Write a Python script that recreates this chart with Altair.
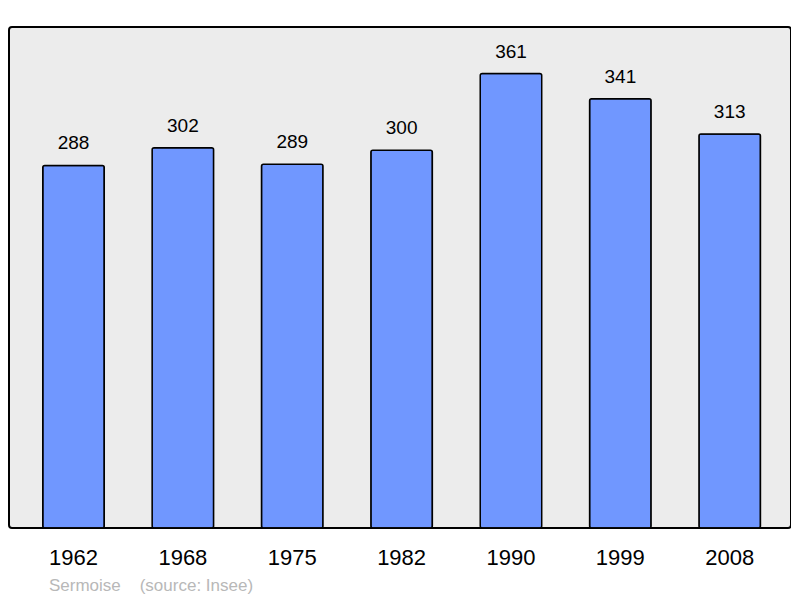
import altair as alt
import pandas as pd

years = ["1962", "1968", "1975", "1982", "1990", "1999", "2008"]
population = [288, 302, 289, 300, 361, 341, 313]

df = pd.DataFrame({"year": years, "pop": population})

x = alt.X("year:N", sort=years, title=None,
          scale=alt.Scale(paddingInner=0.4377, paddingOuter=0.294, align=0.525),
          axis=alt.Axis(labelAngle=0, labelFontSize=22, labelColor="black",
                        labelFont="Liberation Sans", labelPadding=19,
                        labelBaseline="top",
                        ticks=False, domain=False, grid=False))
y = alt.Y("pop:Q", title=None, scale=alt.Scale(domain=[0, 398], nice=False),
          axis=None)

bars = alt.Chart(df).mark_bar(color="#7097ff", stroke="black", strokeWidth=1.5,
                              cornerRadius=2).encode(x=x, y=y)
labels = alt.Chart(df).mark_text(fontSize=19, font="Liberation Sans", color="black",
                                 dy=-22, baseline="middle").encode(
    x=alt.X("year:N", sort=years), y="pop:Q", text="pop:Q")

chart = alt.layer(bars, labels).properties(
    width=782, height=501,
    background="white",
    autosize=alt.AutoSizeParams(type="none"),
    padding={"left": 1, "top": 19, "right": 0, "bottom": 70},
    title=alt.TitleParams(
        text="Sermoise\u00a0\u00a0\u00a0\u00a0(source: Insee)",
        orient="bottom", anchor="start", dx=40, offset=10,
        fontSize=17, font="Liberation Sans", fontWeight="normal", color="#b8b8b8"),
).configure_view(fill="#ececec", stroke="black", strokeWidth=2, cornerRadius=3)

chart.save("out.html", embed_options={"renderer": "svg", "actions": False})
